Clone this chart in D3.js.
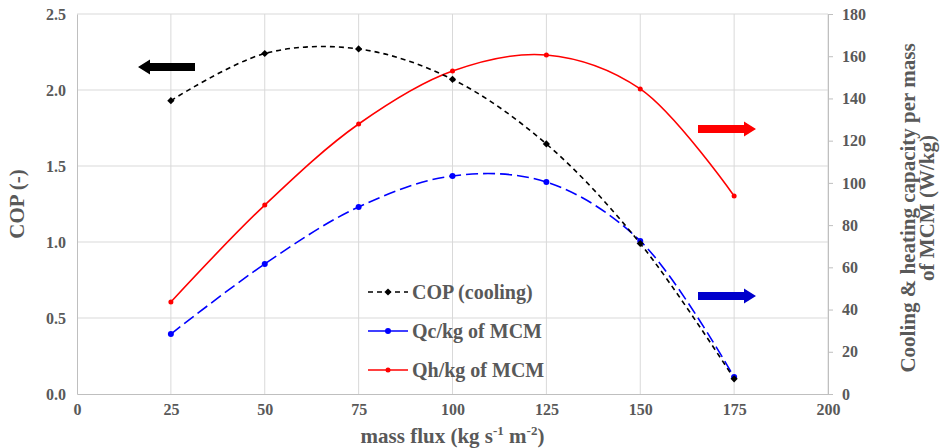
<!DOCTYPE html>
<html>
<head>
<meta charset="utf-8">
<script src="https://cdn.jsdelivr.net/npm/d3@7"></script>
<style>
body { margin: 0; background: #fff; }
svg text { font-family: "Liberation Serif", "Tinos", "DejaVu Serif", serif !important; font-weight: bold; fill: #595959; }
</style>
</head>
<body>
<div id="chart"></div>
<script>
var massFlux = [25, 50, 75, 100, 125, 150, 175];
var copCooling = [1.93, 2.24, 2.27, 2.07, 1.645, 0.99, 0.10];
var qcPerKg = [28.4, 61.6, 88.6, 103.3, 100.4, 72.5, 8.0];
var qhPerKg = [43.6, 89.5, 127.9, 153.0, 160.6, 144.5, 93.8];
var xTicks = [0, 25, 50, 75, 100, 125, 150, 175, 200];
var copTicks = [0, 0.5, 1.0, 1.5, 2.0, 2.5];
var capTicks = [0, 20, 40, 60, 80, 100, 120, 140, 160, 180];

var margin = {top: 14, right: 119, bottom: 54, left: 77},
    width = 947 - margin.left - margin.right,
    height = 448 - margin.top - margin.bottom;

var svg = d3.select("#chart").append("svg")
    .attr("width", 947)
    .attr("height", 448)
  .append("g")
    .attr("transform", "translate(" + margin.left + "," + margin.top + ")");

var x = d3.scaleLinear().domain([0, 200]).range([0, width]);
var yL = d3.scaleLinear().domain([0, 2.5]).range([height, 0]);
var yR = d3.scaleLinear().domain([0, 180]).range([height, 0]);

// grid
svg.selectAll(".hgrid").data(copTicks.slice(1)).enter().append("line")
    .attr("x1", 0).attr("x2", width)
    .attr("y1", function(d) { return yL(d); }).attr("y2", function(d) { return yL(d); })
    .attr("stroke", "#d9d9d9").attr("stroke-width", 1);
svg.selectAll(".vgrid").data(xTicks.slice(1)).enter().append("line")
    .attr("y1", 0).attr("y2", height)
    .attr("x1", function(d) { return x(d); }).attr("x2", function(d) { return x(d); })
    .attr("stroke", "#d9d9d9").attr("stroke-width", 1);

// axes
var xAxis = svg.append("g")
    .attr("transform", "translate(0," + height + ")")
    .call(d3.axisBottom(x).tickValues(xTicks).tickSize(0).tickPadding(10));
xAxis.selectAll("text").style("font-size", "16px");

var leftAxis = svg.append("g")
    .call(d3.axisLeft(yL).tickValues(copTicks).tickSize(0).tickPadding(11)
          .tickFormat(d3.format(".1f")));
leftAxis.selectAll("text").style("font-size", "16px");

var rightAxis = svg.append("g")
    .attr("transform", "translate(" + width + ",0)")
    .call(d3.axisRight(yR).tickValues(capTicks).tickSize(5).tickPadding(9));
rightAxis.selectAll("text").style("font-size", "16px");

svg.selectAll(".domain").attr("stroke", "#bfbfbf");
svg.selectAll(".tick line").attr("stroke", "#bfbfbf");

// axis titles
svg.append("text")
    .attr("x", width / 2).attr("y", height + 49)
    .attr("text-anchor", "middle").style("font-size", "21px")
    .html('mass flux (kg s<tspan dy="-8" font-size="13px">-1</tspan><tspan dy="8"> m</tspan><tspan dy="-8" font-size="13px">-2</tspan><tspan dy="8">)</tspan>');

svg.append("text")
    .attr("transform", "translate(-53," + (height / 2) + ") rotate(-90)")
    .attr("text-anchor", "middle").style("font-size", "21px")
    .text("COP (-)");

var rt = svg.append("text")
    .attr("transform", "translate(" + (width + 87) + "," + (height / 2 + 4) + ") rotate(-90)")
    .attr("text-anchor", "middle").style("font-size", "21px");
rt.append("tspan").attr("x", 0).attr("dy", 0).text("Cooling & heating capacity per mass");
rt.append("tspan").attr("x", 0).attr("dy", 19).text("of MCM (W/kg)");

// series
var curve = d3.curveCatmullRom.alpha(0.5);

var lineCop = d3.line().curve(curve)
    .x(function(d, i) { return x(massFlux[i]); })
    .y(function(d) { return yL(d); });
var lineR = d3.line().curve(curve)
    .x(function(d, i) { return x(massFlux[i]); })
    .y(function(d) { return yR(d); });

svg.append("path").datum(qhPerKg)
    .attr("d", lineR).attr("fill", "none")
    .attr("stroke", "#ff0000").attr("stroke-width", 1.6);
svg.append("path").datum(qcPerKg)
    .attr("d", lineR).attr("fill", "none")
    .attr("stroke", "#0000ff").attr("stroke-width", 1.6)
    .attr("stroke-dasharray", "12,5");
svg.append("path").datum(copCooling)
    .attr("d", lineCop).attr("fill", "none")
    .attr("stroke", "#000").attr("stroke-width", 1.6)
    .attr("stroke-dasharray", "5,4");

var diamond = "M0,-3.6L3.6,0L0,3.6L-3.6,0Z";

svg.selectAll(".qh_pt").data(qhPerKg).enter().append("circle")
    .attr("cx", function(d, i) { return x(massFlux[i]); })
    .attr("cy", function(d) { return yR(d); })
    .attr("r", 2.5).attr("fill", "#ff0000");
svg.selectAll(".qc_pt").data(qcPerKg).enter().append("circle")
    .attr("cx", function(d, i) { return x(massFlux[i]); })
    .attr("cy", function(d) { return yR(d); })
    .attr("r", 3).attr("fill", "#0000ff");
svg.selectAll(".cop_pt").data(copCooling).enter().append("path")
    .attr("d", diamond)
    .attr("transform", function(d, i) { return "translate(" + x(massFlux[i]) + "," + yL(d) + ")"; })
    .attr("fill", "#000");

// arrows
function arrow(x0, x1, yc, color) {
    var dir = x1 > x0 ? 1 : -1;
    var head = 12 * dir;
    var p = [
        [x0, yc - 4], [x1 - head, yc - 4], [x1 - head, yc - 7.5], [x1, yc],
        [x1 - head, yc + 7.5], [x1 - head, yc + 4], [x0, yc + 4]
    ];
    svg.append("path")
        .attr("d", d3.line()(p) + "Z")
        .attr("fill", color);
}
arrow(195 - margin.left, 138 - margin.left, 67 - margin.top, "#000");
arrow(698 - margin.left, 756 - margin.left, 129 - margin.top, "#ff0000");
arrow(698 - margin.left, 756 - margin.left, 296 - margin.top, "#0000cc");

// legend
var legend = [
    {name: "COP (cooling)", color: "#000", dash: "5,4", mark: "diamond"},
    {name: "Qc/kg of MCM", color: "#0000ff", dash: null, mark: "circle"},
    {name: "Qh/kg of MCM", color: "#ff0000", dash: null, mark: "small"}
];
var lg = svg.selectAll(".leg").data(legend).enter().append("g")
    .attr("transform", function(d, i) { return "translate(" + (368 - margin.left) + "," + (292 - margin.top + i * 39) + ")"; });
lg.append("line")
    .attr("x1", 0).attr("x2", 40).attr("y1", 0).attr("y2", 0)
    .attr("stroke", function(d) { return d.color; }).attr("stroke-width", 1.6)
    .attr("stroke-dasharray", function(d) { return d.dash; });
lg.each(function(d) {
    var g = d3.select(this);
    if (d.mark == "diamond") {
        g.append("path").attr("d", diamond)
            .attr("transform", "translate(20,0)").attr("fill", d.color);
    } else {
        g.append("circle").attr("cx", 20).attr("cy", 0)
            .attr("r", d.mark == "circle" ? 3 : 2.5).attr("fill", d.color);
    }
});
lg.append("text")
    .attr("x", 44).attr("y", 7)
    .style("font-size", "20px")
    .text(function(d) { return d.name; });
</script>
</body>
</html>
